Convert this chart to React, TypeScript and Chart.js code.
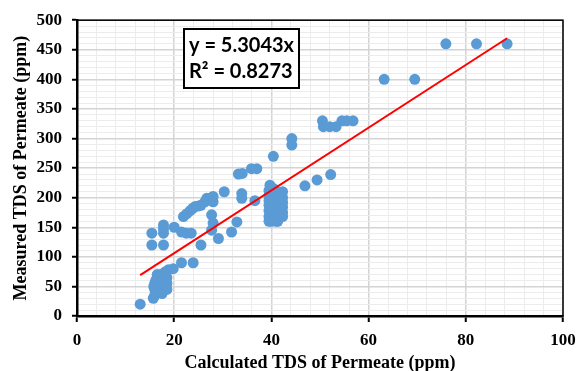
import React, { useEffect, useRef } from "react";
import { Chart, registerables } from "chart.js";

Chart.register(...registerables);

// Measured vs calculated TDS (ppm)
const calcTDS: number[] = [
  13, 15.7, 16, 16.5, 17.5, 16, 17, 18.5, 15.8, 17, 18, 16, 17.5, 18.5, 16.2, 17, 18, 16.5, 17.5, 18.5,
  16.5, 17.3, 18, 18.8, 18.2, 19.8, 21.5, 23.9,
  15.4, 17.8, 15.4, 17.8, 17.8, 17.8, 20, 21.5, 22.5, 23.5, 25.5,
  21.9, 22.6, 23.3, 23.8, 24.3, 25, 25.5, 26.3, 26.7, 27.4, 27.7, 28, 28,
  27.7, 28, 27.7, 29.1, 30.3, 31.8, 32.9,
  33.2, 34, 35.9, 37, 33.9, 33.9, 36.6,
  39.7, 39.5, 39.5, 39.5, 39.5, 39.5, 39.5, 39.5,
  40.5, 40.5, 40.5, 40.5, 40.5, 40.5, 40.5,
  41.3, 41.3, 41.3, 41.3, 41.3, 41.3, 41.3,
  42.3, 42.3, 42.3, 42.3, 42.3, 42.3, 40, 41,
  40.4, 44.2, 44.2, 46.9, 49.4, 52.2,
  50.5, 50.7, 52, 53.3, 54.5, 55.5, 56.8,
  63.2, 69.5, 75.9, 82.2, 88.5,
];
const measTDS: number[] = [
  20, 30, 35, 40, 38, 45, 45, 45, 50, 50, 50, 55, 55, 55, 60, 60, 60, 65, 65, 65,
  70, 70, 72, 78, 75, 80, 90, 90,
  120, 120, 140, 140, 147, 154, 150, 142, 140, 140, 120,
  168, 173, 178, 182, 185, 186, 187, 193, 199, 199, 196, 202, 193,
  171, 157, 145, 131, 210, 142, 159,
  240, 241, 249, 249, 207, 199, 195,
  221, 212, 203, 195, 187, 178, 168, 160,
  215, 205, 196, 188, 180, 172, 164,
  210, 200, 190, 182, 174, 166, 160,
  210, 200, 192, 184, 175, 168, 160, 160,
  270, 289, 300, 220, 230, 239,
  330, 320, 320, 320, 330, 330, 330,
  400, 400, 460, 460, 460,
];

// Linear trendline through origin (Excel): y = 5.3043x
const trendSlope = 5.3043;
const trendRange: number[] = [13, 88.5];
const equationLines: string[] = ["y = 5.3043x", "R\u00B2 = 0.8273"];

const xTitle = "Calculated TDS of Permeate (ppm)";
const yTitle = "Measured TDS of Permeate (ppm)";

const SERIF = "'Liberation Serif', 'Times New Roman', serif";

const frameAndBox = {
  id: "frameAndBox",
  afterDraw(chart: any) {
    const { ctx, chartArea: a } = chart;
    ctx.save();
    ctx.strokeStyle = "#000";
    ctx.lineWidth = 1.5;
    ctx.strokeRect(a.left, a.top, a.right - a.left, a.bottom - a.top);
    // equation box
    const bx = 184, by = 29, bw = 115, bh = 59;
    ctx.fillStyle = "#fff";
    ctx.fillRect(bx, by, bw, bh);
    ctx.lineWidth = 2;
    ctx.strokeRect(bx, by, bw, bh);
    ctx.fillStyle = "#000";
    ctx.font = "bold 20px Lato, 'Open Sans', sans-serif";
    ctx.textBaseline = "middle";
    ctx.textAlign = "left";
    ctx.fillText(equationLines[0], bx + 5, by + 17);
    ctx.fillText(equationLines[1], bx + 5, by + 43);
    ctx.restore();
  },
};

export default function App() {
  const ref = useRef<HTMLCanvasElement | null>(null);
  useEffect(() => {
    if (!ref.current) return;
    const pts = calcTDS.map((x, i) => ({ x, y: measTDS[i] }));
    const trend = trendRange.map((x) => ({ x, y: trendSlope * x }));
    const chart = new Chart(ref.current, {
      type: "scatter",
      data: {
        datasets: [
          {
            type: "line",
            data: trend,
            borderColor: "#FF0000",
            borderWidth: 2,
            pointRadius: 0,
            fill: false,
            order: 0,
          } as any,
          {
            data: pts,
            backgroundColor: "#5B9BD5",
            borderColor: "#5B9BD5",
            pointRadius: 5.5,
            pointBorderWidth: 0,
            order: 1,
          },
        ],
      },
      options: {
        responsive: false,
        animation: false,
        layout: { padding: { top: 20, right: 13, left: 11, bottom: 0 } },
        plugins: { legend: { display: false }, tooltip: { enabled: false } },
        scales: {
          x: {
            type: "linear",
            min: 0,
            max: 100,
            afterFit: (s: any) => { s.height = 55; s.paddingRight = 0; s.paddingLeft = 0; },
            ticks: {
              stepSize: 4,
              autoSkip: false,
              maxRotation: 0,
              color: "#000",
              padding: 8,
              font: { family: SERIF, size: 17, weight: "bold" },
              callback: (v: any) => (Number(v) % 20 === 0 ? String(v) : ""),
            },
            grid: {
              color: (c: any) => (c.tick && c.tick.value % 20 === 0 ? "#d4d4d4" : "#ececec"),
              lineWidth: (c: any) => (c.tick && c.tick.value % 20 === 0 ? 1.5 : 1),
              tickColor: (c: any) => (c.tick && c.tick.value % 20 === 0 ? "#000" : "rgba(0,0,0,0)"),
              tickLength: 6,
              tickWidth: 2,
            },
            border: { color: "#000", width: 2.5 },
            title: {
              display: true,
              text: xTitle,
              color: "#000",
              font: { family: SERIF, size: 18, weight: "bold" },
              padding: { top: 5, bottom: -3 },
            },
          },
          y: {
            type: "linear",
            min: 0,
            max: 500,
            afterFit: (s: any) => { s.width = 66; },
            ticks: {
              stepSize: 10,
              autoSkip: false,
              color: "#000",
              padding: 10,
              font: { family: SERIF, size: 17, weight: "bold" },
              callback: (v: any) => (Number(v) % 50 === 0 ? String(v) : ""),
            },
            grid: {
              color: (c: any) => (c.tick && c.tick.value % 50 === 0 ? "#d4d4d4" : "#ececec"),
              lineWidth: (c: any) => (c.tick && c.tick.value % 50 === 0 ? 1.5 : 1),
              tickColor: (c: any) => (c.tick && c.tick.value % 50 === 0 ? "#000" : "rgba(0,0,0,0)"),
              tickLength: 5,
              tickWidth: 2,
            },
            border: { color: "#000", width: 2.5 },
            title: {
              display: true,
              text: yTitle,
              color: "#000",
              font: { family: SERIF, size: 18, weight: "bold" },
              padding: { top: 0, bottom: 2 },
            },
          },
        },
      },
      plugins: [frameAndBox],
    });
    return () => chart.destroy();
  }, []);
  return (
    <div style={{ position: "absolute", left: 0, top: 0, width: 576, height: 371, background: "#fff" }}>
      <canvas ref={ref} width={576} height={371} />
    </div>
  );
}
